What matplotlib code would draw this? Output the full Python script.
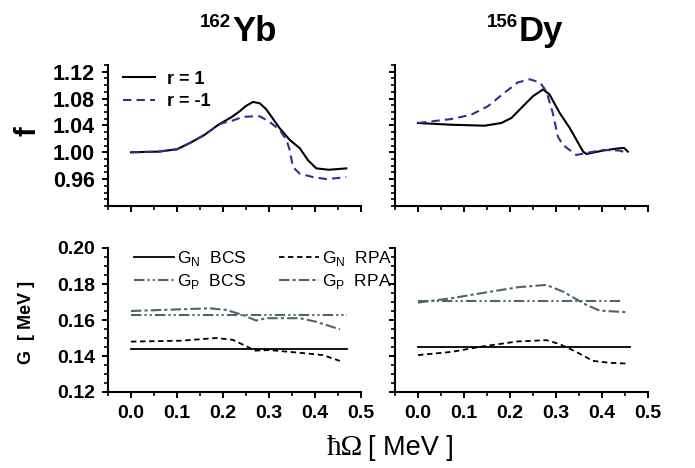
import matplotlib

matplotlib.use("Agg")
import matplotlib.pyplot as plt  # noqa: E402
from matplotlib.ticker import MultipleLocator  # noqa: E402

plt.rcParams["font.family"] = ["Liberation Sans", "DejaVu Sans"]
plt.rcParams["mathtext.fontset"] = "custom"
plt.rcParams["mathtext.rm"] = "Liberation Sans"
plt.rcParams["mathtext.bf"] = "Liberation Sans:bold"

BLUE = "#2e3192"
TEAL = "#50646c"

# ---------------- data: f(hbar Omega) ----------------
yb_x_r1 = [0.0, 0.06, 0.10, 0.13, 0.16, 0.19, 0.22, 0.236, 0.25, 0.265, 0.28, 0.294,
           0.323, 0.345, 0.367, 0.385, 0.403, 0.43, 0.468]
yb_f_r1 = [1.000, 1.001, 1.0045, 1.0145, 1.026, 1.041, 1.053, 1.061, 1.069, 1.075, 1.073,
           1.064, 1.036, 1.0185, 1.006, 0.988, 0.976, 0.974, 0.976]
yb_x_rm1 = [0.0, 0.06, 0.10, 0.13, 0.16, 0.19, 0.20, 0.22, 0.243, 0.265, 0.28, 0.30,
            0.323, 0.338, 0.345, 0.352, 0.367, 0.396, 0.425, 0.468]
yb_f_rm1 = [1.000, 1.001, 1.0045, 1.0145, 1.026, 1.041, 1.0436, 1.047, 1.0527, 1.0535,
            1.0536, 1.046, 1.0335, 1.0185, 1.0035, 0.978, 0.968, 0.963, 0.960, 0.963]

dy_x_r1 = [0.0, 0.073, 0.145, 0.181, 0.203, 0.223, 0.25, 0.272, 0.286, 0.308, 0.330,
           0.359, 0.366, 0.402, 0.438, 0.448, 0.456]
dy_f_r1 = [1.0436, 1.041, 1.0396, 1.0436, 1.051, 1.065, 1.0836, 1.0937, 1.086, 1.0586,
           1.036, 1.001, 0.9975, 1.0025, 1.006, 1.0065, 1.001]
dy_x_rm1 = [0.0, 0.073, 0.116, 0.152, 0.188, 0.217, 0.243, 0.265, 0.279, 0.293, 0.304,
            0.315, 0.344, 0.366, 0.402, 0.438, 0.456]
dy_f_rm1 = [1.0436, 1.0496, 1.056, 1.0686, 1.0887, 1.104, 1.1087, 1.104, 1.091, 1.0586,
            1.0235, 1.011, 0.996, 0.999, 1.0035, 1.0025, 0.999]

# ---------------- data: pairing strengths G ----------------
yb_gn_bcs_x = [0.0, 0.47]
yb_gn_bcs = [0.144, 0.144]
yb_gn_rpa_x = [0.0, 0.11, 0.185, 0.221, 0.25, 0.27, 0.301, 0.367, 0.417, 0.454]
yb_gn_rpa = [0.148, 0.1485, 0.150, 0.149, 0.1455, 0.143, 0.1433, 0.1418, 0.1405, 0.1373]
yb_gp_bcs_x = [0.0, 0.47]
yb_gp_bcs = [0.163, 0.163]
yb_gp_rpa_x = [0.0, 0.171, 0.207, 0.243, 0.272, 0.294, 0.367, 0.403, 0.454]
yb_gp_rpa = [0.165, 0.1665, 0.1656, 0.1628, 0.1597, 0.161, 0.161, 0.159, 0.1548]

dy_gn_bcs_x = [0.0, 0.46]
dy_gn_bcs = [0.145, 0.145]
dy_gn_rpa_x = [0.0, 0.073, 0.145, 0.217, 0.279, 0.308, 0.344, 0.380, 0.417, 0.456]
dy_gn_rpa = [0.1405, 0.1423, 0.1455, 0.1481, 0.1488, 0.1466, 0.1423, 0.1373, 0.1362, 0.1358]
dy_gp_bcs_x = [0.0, 0.446]
dy_gp_bcs = [0.1708, 0.1708]
dy_gp_rpa_x = [0.0, 0.073, 0.145, 0.217, 0.279, 0.315, 0.344, 0.366, 0.395, 0.456]
dy_gp_rpa = [0.1697, 0.1721, 0.1752, 0.1782, 0.1795, 0.1758, 0.1716, 0.1684, 0.1652, 0.1643]

# ---------------- layout ----------------
W, H = 695, 468
fig = plt.figure(figsize=(W / 100, H / 100), dpi=100)


def box(l, r, t, b):
    return [l / W, 1 - b / H, (r - l) / W, (b - t) / H]


def fx(px):
    return px / W


def fy(py):
    return 1 - py / H


ax_f_yb = fig.add_axes(box(108, 361, 65, 206))
ax_f_dy = fig.add_axes(box(395, 648, 65, 206))
ax_g_yb = fig.add_axes(box(108, 361, 248, 392))
ax_g_dy = fig.add_axes(box(395, 648, 248, 392))

for ax in (ax_f_yb, ax_f_dy, ax_g_yb, ax_g_dy):
    ax.patch.set_visible(False)
    for s in ("top", "right"):
        ax.spines[s].set_visible(False)
    for s in ("left", "bottom"):
        ax.spines[s].set_linewidth(1.5)
    ax.set_xlim(-0.05, 0.5)
    ax.xaxis.set_major_locator(MultipleLocator(0.1))
    ax.xaxis.set_minor_locator(MultipleLocator(0.05))
    ax.tick_params(which="major", direction="out", length=4.5, width=1.4,
                   labelsize=14)
    ax.tick_params(which="minor", direction="out", length=2.8, width=1.2)
    ax.tick_params(axis="y", pad=5)
    ax.tick_params(axis="x", pad=5)

for ax in (ax_f_yb, ax_f_dy):
    ax.set_ylim(0.92, 1.13)
    ax.set_yticks([0.96, 1.00, 1.04, 1.08, 1.12])
    ax.yaxis.set_minor_locator(MultipleLocator(0.01))
    ax.tick_params(axis="x", labelbottom=False)
    ax.tick_params(axis="y", labelsize=15.5)

for ax in (ax_g_yb, ax_g_dy):
    ax.set_ylim(0.12, 0.20)
    ax.yaxis.set_major_locator(MultipleLocator(0.02))
    ax.yaxis.set_minor_locator(MultipleLocator(0.005))
    ax.set_xticks([0.0, 0.1, 0.2, 0.3, 0.4, 0.5])
    ax.set_xticklabels(["0.0", "0.1", "0.2", "0.3", "0.4", "0.5"])

ax_f_dy.tick_params(axis="y", labelleft=False)
ax_g_dy.tick_params(axis="y", labelleft=False)

for ax in fig.axes:
    for lab in ax.get_xticklabels() + ax.get_yticklabels():
        lab.set_fontweight("bold")

# ---------------- f panels ----------------
ax_f_yb.plot(yb_x_r1, yb_f_r1, color="black", lw=1.5, label="r = 1")
ax_f_yb.plot(yb_x_rm1, yb_f_rm1, color=BLUE, lw=1.5, ls=(0, (4, 2.5)), label="r = -1")
ax_f_dy.plot(dy_x_r1, dy_f_r1, color="black", lw=1.5)
ax_f_dy.plot(dy_x_rm1, dy_f_rm1, color=BLUE, lw=1.5, ls=(0, (4, 2.5)))

ax_f_yb.legend(loc="upper left", bbox_to_anchor=(0.045, 0.985), frameon=False,
               handlelength=1.75, handletextpad=0.7, labelspacing=0.3,
               borderaxespad=0, borderpad=0.2,
               prop={"size": 13, "weight": "bold"})

# ---------------- G panels ----------------
STY = {
    "gn_bcs": dict(color="black", lw=1.3, ls="-"),
    "gn_rpa": dict(color="black", lw=1.3, ls=(0, (3, 2))),
    "gp_bcs": dict(color=TEAL, lw=1.5, ls=(0, (5, 1.5, 1, 1.5, 1, 1.5))),
    "gp_rpa": dict(color=TEAL, lw=1.5, ls=(0, (5, 1.5, 1.5, 1.5))),
}
h1, = ax_g_yb.plot(yb_gn_bcs_x, yb_gn_bcs, **STY["gn_bcs"])
h2, = ax_g_yb.plot(yb_gn_rpa_x, yb_gn_rpa, **STY["gn_rpa"])
h3, = ax_g_yb.plot(yb_gp_bcs_x, yb_gp_bcs, **STY["gp_bcs"])
h4, = ax_g_yb.plot(yb_gp_rpa_x, yb_gp_rpa, **STY["gp_rpa"])
ax_g_dy.plot(dy_gn_bcs_x, dy_gn_bcs, **STY["gn_bcs"])
ax_g_dy.plot(dy_gn_rpa_x, dy_gn_rpa, **STY["gn_rpa"])
ax_g_dy.plot(dy_gp_bcs_x, dy_gp_bcs, **STY["gp_bcs"])
ax_g_dy.plot(dy_gp_rpa_x, dy_gp_rpa, **STY["gp_rpa"])

ax_g_yb.legend([h1, h3, h2, h4],
               [r"G$_\mathregular{N}$  BCS", r"G$_\mathregular{P}$  BCS",
                r"G$_\mathregular{N}$  RPA", r"G$_\mathregular{P}$  RPA"],
               ncol=2, loc="upper left", bbox_to_anchor=(0.09, 1.015), frameon=False,
               handlelength=2.3, handletextpad=0.15, columnspacing=1.9,
               labelspacing=0.2, borderaxespad=0, borderpad=0.2,
               prop={"size": 12.5})

# ---------------- titles and labels ----------------
for x_sup, x_el, sup, el in ((231, 232, "162", "Yb"), (518, 519, "156", "Dy")):
    fig.text(fx(x_sup), fy(27), sup, ha="right", va="baseline", fontsize=13.5,
             fontweight="bold")
    fig.text(fx(x_el), fy(41), el, ha="left", va="baseline", fontsize=25,
             fontweight="bold")

fig.text(fx(27), fy(131), "f", rotation=90, ha="center", va="center",
         fontsize=21, fontweight="bold")
fig.text(fx(27), fy(322), "G  [ MeV ]", rotation=90, ha="center", va="center",
         fontsize=13, fontweight="bold")
fig.text(fx(363), fy(455), "ħΩ", ha="right", va="baseline", fontsize=21,
         family=["Liberation Serif", "DejaVu Serif"])
fig.text(fx(368), fy(455), "[ MeV ]", ha="left", va="baseline", fontsize=19.5)

fig.savefig("out.png", dpi=100)
